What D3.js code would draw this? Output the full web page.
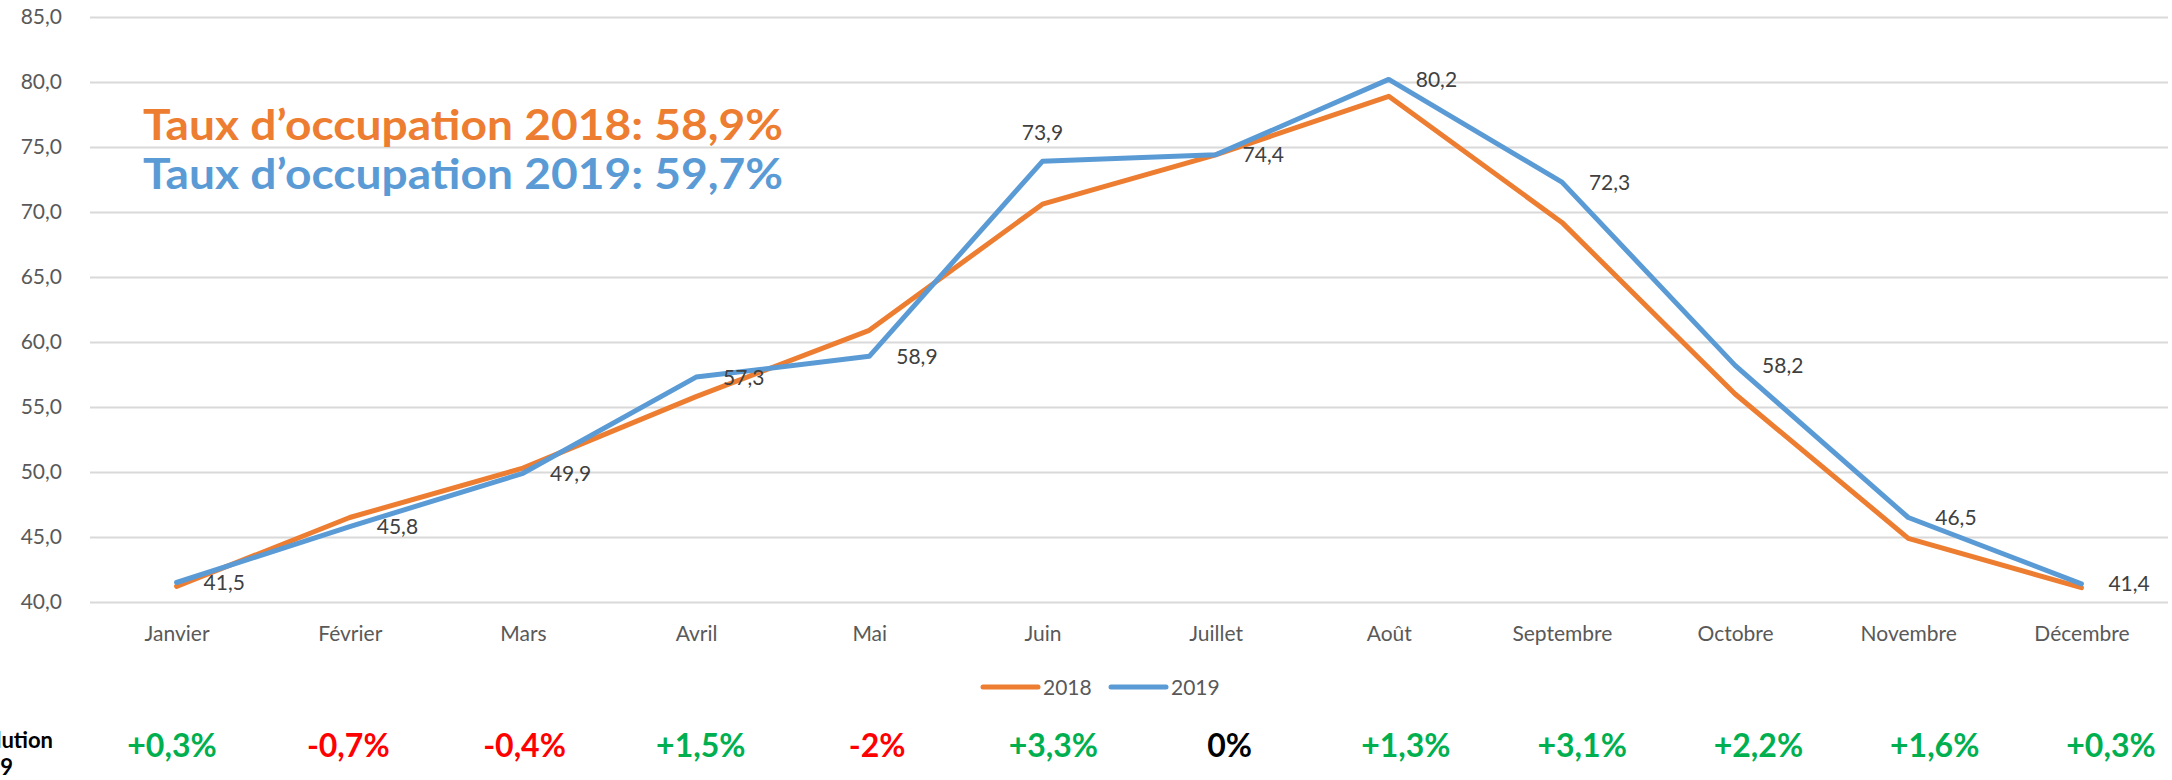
<!DOCTYPE html>
<html>
<head>
<meta charset="utf-8">
<script src="https://cdn.jsdelivr.net/npm/d3@7"></script>
<style>
  html, body { margin: 0; padding: 0; background: #fff; overflow: hidden; }
  svg { display: block; font-family: Lato, "Open Sans", sans-serif; }
</style>
</head>
<body>
<svg id="chart"></svg>
<script>
// months on the x axis
const months = ["Janvier", "Février", "Mars", "Avril", "Mai", "Juin", "Juillet", "Août", "Septembre", "Octobre", "Novembre", "Décembre"];
// occupancy rate per month (%)
const taux2018 = [41.2, 46.5, 50.3, 55.8, 60.9, 70.6, 74.4, 78.9, 69.2, 56.0, 44.9, 41.1];
const taux2019 = [41.5, 45.8, 49.9, 57.3, 58.9, 73.9, 74.4, 80.2, 72.3, 58.2, 46.5, 41.4];
// evolution 2018 -> 2019 shown under the chart
const evolution = ["+0,3%", "-0,7%", "-0,4%", "+1,5%", "-2%", "+3,3%", "0%", "+1,3%", "+3,1%", "+2,2%", "+1,6%", "+0,3%"];
const yTicks = [40, 45, 50, 55, 60, 65, 70, 75, 80, 85];
const seriesNames = ["2018", "2019"];
const titles = ["Taux d’occupation 2018: 58,9%", "Taux d’occupation 2019: 59,7%"];

const W = 2172, H = 780;
const margin = { top: 17, right: 4, bottom: 178, left: 90 };
const colors = { "2018": "#ED7D31", "2019": "#5B9BD5" };

const svg = d3.select("#chart").attr("width", W).attr("height", H);

const x = d3.scalePoint()
  .domain(months)
  .range([margin.left, W - margin.right])
  .padding(0.5);

const y = d3.scaleLinear()
  .domain([40, 85])
  .range([H - margin.bottom, margin.top]);

const fmt = v => d3.format(".1f")(v).replace(".", ",");

// y axis + gridlines
const yAxis = svg.append("g")
  .attr("transform", `translate(${margin.left},0)`)
  .call(d3.axisLeft(y)
    .tickValues(yTicks)
    .tickSize(-(W - margin.left - margin.right))
    .tickPadding(28)
    .tickFormat(fmt));
yAxis.select(".domain").remove();
yAxis.selectAll(".tick line").attr("stroke", "#D9D9D9").attr("stroke-width", 2);
yAxis.selectAll(".tick text")
  .attr("fill", "#595959")
  .attr("font-size", 21)
  .attr("font-family", "Lato, sans-serif");

// x axis labels
const xAxis = svg.append("g")
  .attr("transform", `translate(0,${H - margin.bottom})`)
  .call(d3.axisBottom(x).tickSize(0).tickPadding(24));
xAxis.select(".domain").remove();
xAxis.selectAll(".tick text")
  .attr("fill", "#595959")
  .attr("font-size", 21)
  .attr("font-family", "Lato, sans-serif");

// the two lines, 2019 on top
const series = [
  { name: "2018", values: taux2018 },
  { name: "2019", values: taux2019 }
];

const line = d3.line()
  .x((d, i) => x(months[i]))
  .y(d => y(d));

svg.selectAll(".serie")
  .data(series)
  .join("path")
  .attr("class", "serie")
  .attr("d", d => line(d.values))
  .attr("fill", "none")
  .attr("stroke", d => colors[d.name])
  .attr("stroke-width", 5)
  .attr("stroke-linejoin", "round")
  .attr("stroke-linecap", "round");

// data labels only for 2019 (Juin sits above the point)
svg.selectAll(".lbl")
  .data(taux2019)
  .join("text")
  .attr("class", "lbl")
  .attr("x", (d, i) => months[i] === "Juin" ? x(months[i]) : x(months[i]) + 27)
  .attr("y", (d, i) => months[i] === "Juin" ? y(d) - 21 : y(d))
  .attr("dy", (d, i) => months[i] === "Juin" ? 0 : "0.36em")
  .attr("text-anchor", (d, i) => months[i] === "Juin" ? "middle" : "start")
  .attr("fill", "#404040")
  .attr("font-size", 21)
  .text(d => fmt(d));

// big titles (the original font is a wide geometric one, so stretch a bit)
svg.selectAll(".titre")
  .data(titles)
  .join("text")
  .attr("class", "titre")
  .attr("x", 143)
  .attr("y", (d, i) => 140 + i * 49)
  .attr("fill", (d, i) => colors[seriesNames[i]])
  .attr("font-size", 42)
  .attr("font-weight", "bold")
  .attr("textLength", 640)
  .attr("lengthAdjust", "spacingAndGlyphs")
  .text(d => d);

// legend
const legend = svg.append("g").attr("transform", `translate(983,687)`);
const item = legend.selectAll("g")
  .data(seriesNames)
  .join("g")
  .attr("transform", (d, i) => `translate(${i * 128},0)`);
item.append("line")
  .attr("x1", 0).attr("x2", 55)
  .attr("stroke", d => colors[d])
  .attr("stroke-width", 5)
  .attr("stroke-linecap", "round");
item.append("text")
  .attr("x", 60)
  .attr("dy", "0.36em")
  .attr("fill", "#595959")
  .attr("font-size", 21)
  .text(d => d);

// evolution row
const xEvo = d3.scalePoint().domain(months).range([172, 2111]);
svg.selectAll(".evo")
  .data(evolution)
  .join("text")
  .attr("class", "evo")
  .attr("x", (d, i) => xEvo(months[i]))
  .attr("y", 757)
  .attr("text-anchor", "middle")
  .attr("font-size", 32)
  .attr("font-weight", "bold")
  .attr("fill", d => d[0] === "+" ? "#00B050" : d[0] === "-" ? "#FF0000" : "#000")
  .text(d => d);

// row header, cut off on the left like in the original
svg.append("text")
  .attr("x", 53).attr("y", 748)
  .attr("text-anchor", "end")
  .attr("font-size", 22).attr("font-weight", "bold")
  .text("Evolution");
svg.append("text")
  .attr("x", 13).attr("y", 775)
  .attr("text-anchor", "end")
  .attr("font-size", 22).attr("font-weight", "bold")
  .text("2018/2019");
</script>
</body>
</html>
